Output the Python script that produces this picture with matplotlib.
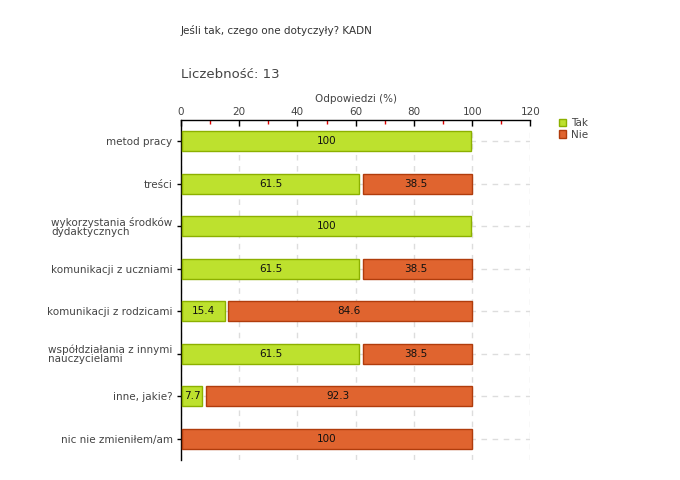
import matplotlib
matplotlib.use("Agg")
import matplotlib.pyplot as plt
from matplotlib.patches import Patch
from matplotlib.ticker import MultipleLocator

categories = ["metod pracy", "treści", "wykorzystania środków\ndydaktycznych",
              "komunikacji z uczniami", "komunikacji z rodzicami",
              "współdziałania z innymi\nnauczycielami", "inne, jakie?",
              "nic nie zmieniłem/am"]
tak = [100, 61.5, 100, 61.5, 15.4, 61.5, 7.7, 0]
nie = [0, 38.5, 0, 38.5, 84.6, 38.5, 92.3, 100]

green, green_edge = "#bde12e", "#8cb000"
red, red_edge = "#e0642f", "#b03c0c"
txt = "#444444"

fig = plt.figure(figsize=(6.8, 4.8), dpi=100)
ax = fig.add_axes([0.266, 0.042, 0.514, 0.708])

y = list(range(len(categories)))
h = 0.47
for i in y:
    t, n = tak[i], nie[i]
    if t > 0:
        ax.barh(i, t - 0.8, left=0.4, height=h, color=green, edgecolor=green_edge, lw=1, zorder=3)
        ax.text(t / 2, i, f"{t:g}", ha="center", va="center", fontsize=7.5, color="#111111", zorder=4)
    if n > 0:
        start = t + 0.9 if t > 0 else 0.4
        ax.barh(i, 100 - start, left=start, height=h, color=red, edgecolor=red_edge, lw=1, zorder=3)
        ax.text(t + n / 2, i, f"{n:g}", ha="center", va="center", fontsize=7.5, color="#111111", zorder=4)

ax.set_xlim(0, 120)
ax.set_ylim(len(categories) - 0.5, -0.5)
ax.set_yticks(y)
ax.set_yticklabels(categories, fontsize=7.5, color=txt, linespacing=0.9)
for lab in ax.get_yticklabels():
    lab.set_multialignment("left")
ax.tick_params(axis="y", length=3, width=1, pad=3)

ax.xaxis.tick_top()
ax.xaxis.set_label_position("top")
ax.xaxis.set_major_locator(MultipleLocator(20))
ax.xaxis.set_minor_locator(MultipleLocator(10))
ax.tick_params(axis="x", which="major", direction="in", length=4, width=1, labelsize=7.5, labelcolor=txt, pad=2)
ax.tick_params(axis="x", which="minor", direction="in", length=3, width=1, color="#dd0000")
ax.set_xlabel("Odpowiedzi (%)", fontsize=7.5, color=txt, labelpad=4)

ax.grid(True, axis="both", which="major", ls=(0, (4, 4)), color="#dddddd", lw=1, zorder=0)
for s in ["right", "bottom"]:
    ax.spines[s].set_visible(False)
ax.spines["top"].set_linewidth(1)
ax.spines["left"].set_linewidth(1)

fig.text(181 / 680, 1 - 30 / 480, "Jeśli tak, czego one dotyczyły? KADN", fontsize=7.5, color="#333333", va="center")
fig.text(181 / 680, 1 - 75 / 480, "Liczebność: 13", fontsize=9.5, color="#444444", va="center")

handles = [Patch(facecolor=green, edgecolor=green_edge, label="Tak"),
           Patch(facecolor=red, edgecolor=red_edge, label="Nie")]
fig.legend(handles=handles, loc="upper left", bbox_to_anchor=(555 / 680, 1 - 114 / 480), frameon=False,
           fontsize=7.5, handlelength=0.7, handleheight=0.7, handletextpad=0.4, labelspacing=0.15,
           labelcolor=txt, borderaxespad=0)

fig.savefig("out.png", dpi=100)
